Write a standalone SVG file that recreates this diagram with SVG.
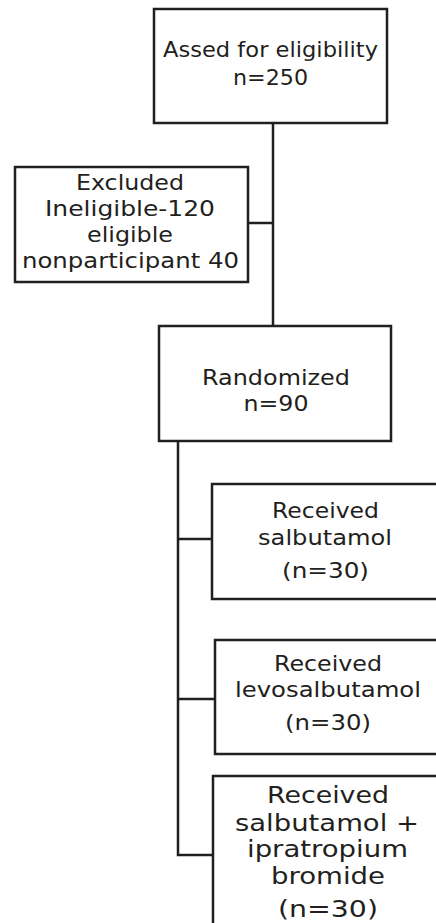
<svg xmlns="http://www.w3.org/2000/svg" width="436" height="923" viewBox="0 0 436 923">
<style>
.box{fill:#fff;stroke:#231f20;stroke-width:2.5}
.ln{fill:none;stroke:#231f20;stroke-width:2.5}
text{font-family:"DejaVu Sans",Verdana,sans-serif;font-size:22px;fill:#231f20;text-anchor:middle}
.big{font-size:22.5px}
</style>
<rect width="436" height="923" fill="#fff"/>
<g id="connectors">
<path class="ln" d="M273 123V326"/>
<path class="ln" d="M248 223H273"/>
<path class="ln" d="M178 441V855H212"/>
<path class="ln" d="M178 539H212"/>
<path class="ln" d="M178 699H215"/>
</g>
<g id="assessed">
<rect class="box" x="154" y="9" width="233" height="114"/>
<text x="270.5" y="57" textLength="215" lengthAdjust="spacingAndGlyphs">Assed for eligibility</text>
<text x="270.5" y="85" textLength="75" lengthAdjust="spacingAndGlyphs">n=250</text>
</g>
<g id="excluded">
<rect class="box" x="15" y="167" width="233" height="115"/>
<text x="130" y="190" textLength="108" lengthAdjust="spacingAndGlyphs">Excluded</text>
<text x="130" y="216" textLength="170" lengthAdjust="spacingAndGlyphs">Ineligible-120</text>
<text x="130" y="242" textLength="86" lengthAdjust="spacingAndGlyphs">eligible</text>
<text x="130.5" y="268" textLength="217" lengthAdjust="spacingAndGlyphs">nonparticipant 40</text>
</g>
<g id="randomized">
<rect class="box" x="159" y="326" width="232" height="115"/>
<text x="276" y="385" textLength="148" lengthAdjust="spacingAndGlyphs">Randomized</text>
<text x="276" y="411" textLength="65" lengthAdjust="spacingAndGlyphs">n=90</text>
</g>
<g id="salbutamol">
<rect class="box" x="212" y="484" width="228" height="115"/>
<text x="325.5" y="518" textLength="107" lengthAdjust="spacingAndGlyphs">Received</text>
<text x="325" y="545" textLength="134" lengthAdjust="spacingAndGlyphs">salbutamol</text>
<text x="325.5" y="578" textLength="87" lengthAdjust="spacingAndGlyphs">(n=30)</text>
</g>
<g id="levosalbutamol">
<rect class="box" x="215" y="640" width="228" height="114"/>
<text x="328" y="671" textLength="108" lengthAdjust="spacingAndGlyphs">Received</text>
<text x="328" y="697" textLength="186" lengthAdjust="spacingAndGlyphs">levosalbutamol</text>
<text x="328" y="730" textLength="86" lengthAdjust="spacingAndGlyphs">(n=30)</text>
</g>
<g id="ipratropium">
<rect class="box" x="213" y="776" width="228" height="160"/>
<text class="big" x="328" y="803" textLength="122" lengthAdjust="spacingAndGlyphs">Received</text>
<text class="big" x="327" y="831" textLength="184" lengthAdjust="spacingAndGlyphs">salbutamol +</text>
<text class="big" x="327.5" y="857" textLength="161" lengthAdjust="spacingAndGlyphs">ipratropium</text>
<text class="big" x="328" y="884" textLength="114" lengthAdjust="spacingAndGlyphs">bromide</text>
<text class="big" x="328" y="917" textLength="100" lengthAdjust="spacingAndGlyphs">(n=30)</text>
</g>
</svg>
